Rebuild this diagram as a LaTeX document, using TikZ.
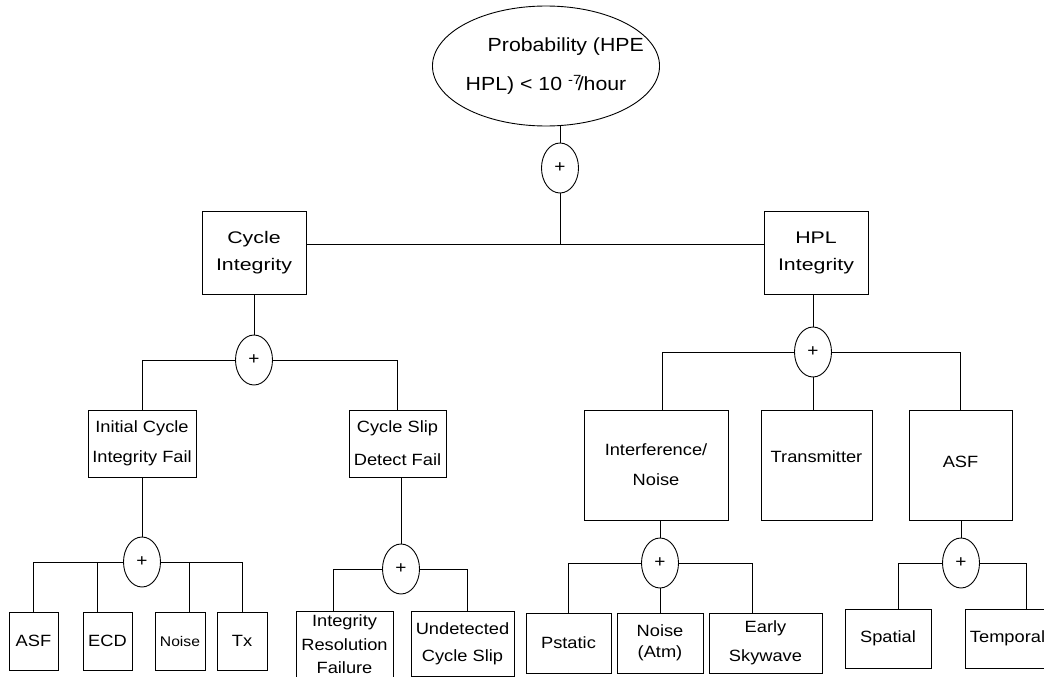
\documentclass[tikz,border=0pt]{standalone}
\usepackage{fontspec}
\setmainfont{Liberation Sans}[FakeStretch=1.12]
\newfontfamily\widefont{Liberation Sans}[FakeStretch=1.27]
\usepackage{tikz}
\usetikzlibrary{shapes}
\tikzstyle{box}=[draw,rectangle,inner sep=0pt,align=center,font=\fontsize{16.3}{30}\selectfont]
\tikzstyle{gate}=[draw,ellipse,minimum width=37pt,minimum height=50pt,inner sep=0pt,font=\fontsize{17}{17}\selectfont]
\newcommand{\fs}[1]{\fontsize{16.3}{#1}\selectfont}

\begin{document}
\begin{tikzpicture}[x=1pt,y=-1pt,line width=0.9pt]
    \useasboundingbox (0,0) rectangle (1044,677);
    \clip (0,0) rectangle (1044,677);

    % top event
    \node[draw,ellipse,minimum width=210pt,minimum height=120pt,inner sep=0pt,align=left,
          font=\fontsize{19}{39}\selectfont] (P) at (546,66)
          {\kern22pt Probability (HPE\kern-18pt\\HPL) < 10 \textsuperscript{-7}\kern-4pt/hour};
    \node[gate] (G0) at (560,168) {+};
    \coordinate (bar) at (560,244);

    \node[box,minimum width=104pt,minimum height=83pt,font=\widefont\fontsize{16.8}{27}\selectfont] (CI) at (254,252.5) {Cycle\\Integrity};
    \node[box,minimum width=104pt,minimum height=83pt,font=\widefont\fontsize{16.8}{27}\selectfont] (HPL) at (816,252.5) {HPL\\Integrity};

    \draw (P.south -| G0) -- (G0.north);
    \draw (G0.south) -- (bar);
    \draw (CI.east |- bar) -- (HPL.west |- bar);

    % cycle integrity branch
    \node[gate] (G1) at (254,360) {+};
    \node[box,minimum width=108pt,minimum height=67pt] (ICF) at (142,443.5) {Initial Cycle\\Integrity Fail};
    \node[box,minimum width=97pt,minimum height=67pt,font=\fs{33}] (CSD) at (397.5,443.5) {Cycle Slip\\Detect Fail};
    \draw (CI.south) -- (G1.north);
    \draw (G1.west) -| (ICF.north);
    \draw (G1.east) -| (CSD.north);

    \node[gate] (G2) at (142,562) {+};
    \node[gate] (G3) at (401,569) {+};
    \draw (ICF.south) -- (G2.north);
    \draw (G3.north) -- (G3.north |- CSD.south);

    \node[box,minimum width=49pt,minimum height=58pt] (ASFa) at (33.5,641) {ASF};
    \node[box,minimum width=49pt,minimum height=58pt] (ECD) at (107.5,641) {ECD};
    \node[box,minimum width=50pt,minimum height=58pt,font=\fontsize{14}{16}\selectfont] (NS) at (180,641) {Noise};
    \node[box,minimum width=50pt,minimum height=58pt] (TX) at (242,641) {Tx};
    \draw (G2.west) -| (ASFa.north);
    \draw (G2.west) -| ([xshift=-10.5pt]ECD.north);
    \draw (G2.east) -| ([xshift=9pt]NS.north);
    \draw (G2.east) -| (TX.north);

    \node[box,minimum width=97pt,minimum height=67pt,font=\fs{23.5}] (IRF) at (344.5,644.5) {Integrity\\Resolution\\Failure};
    \node[box,minimum width=103pt,minimum height=65pt,font=\fs{27}] (UDC) at (462.5,643.5) {Undetected\\Cycle Slip};
    \draw (G3.west) -| ([xshift=-11.5pt]IRF.north);
    \draw (G3.east) -| ([xshift=4.5pt]UDC.north);

    % HPL integrity branch
    \node[gate] (G4) at (813,352) {+};
    \node[box,minimum width=144pt,minimum height=110pt] (INN) at (656,465) {Interference/\\Noise};
    \node[box,minimum width=111pt,minimum height=110pt] (TR) at (816.5,465) {\raisebox{16pt}{Transmitter}};
    \node[box,minimum width=103pt,minimum height=110pt] (ASFb) at (960.5,465) {\raisebox{6pt}{ASF}};
    \draw (HPL.south -| G4) -- (G4.north);
    \draw (G4.west) -| ([xshift=6pt]INN.north);
    \draw (G4.south) -- (G4.south |- TR.north);
    \draw (G4.east) -| (ASFb.north);

    \node[gate] (G5) at (660,563) {+};
    \node[gate] (G6) at (961,563) {+};
    \draw (INN.south -| G5) -- (G5.north);
    \draw (ASFb.south -| G6) -- (G6.north);

    \node[box,minimum width=85pt,minimum height=60pt] (PS) at (568.5,643) {Pstatic};
    \node[box,minimum width=86pt,minimum height=60pt,font=\fs{21}] (NA) at (660,643) {Noise\\(Atm)};
    \node[box,minimum width=113pt,minimum height=60pt,font=\fs{29}] (ES) at (765.5,643) {Early\\Skywave};
    \draw (G5.west) -| (PS.north);
    \draw (G5.south) -- (NA.north);
    \draw (G5.east) -| ([xshift=-13.5pt]ES.north);

    \node[box,minimum width=86pt,minimum height=59pt] (SP) at (888,638.5) {Spatial};
    \node[box,minimum width=85pt,minimum height=59pt] (TP) at (1007.5,638.5) {Temporal};
    \draw (G6.west) -| ([xshift=10pt]SP.north);
    \draw (G6.east) -| ([xshift=18.5pt]TP.north);
\end{tikzpicture}
\end{document}
